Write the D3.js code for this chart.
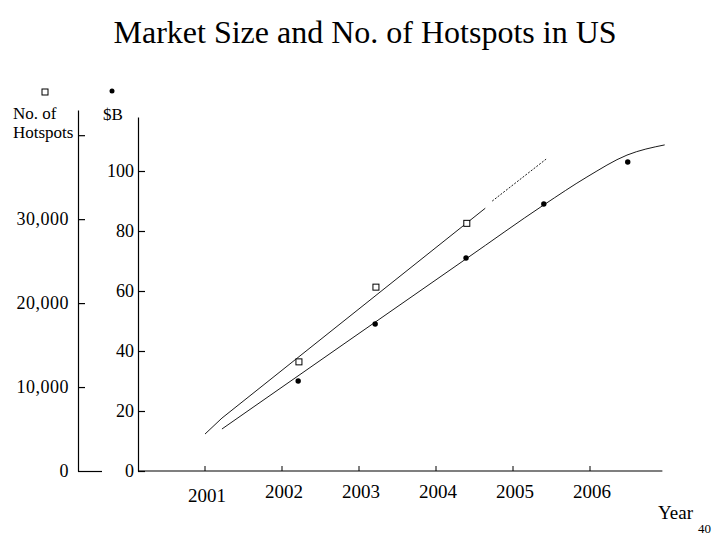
<!DOCTYPE html>
<html>
<head>
  <script src="https://cdnjs.cloudflare.com/ajax/libs/d3/7.8.5/d3.min.js"></script>
  <style>
    body { margin: 0; background: #fff; }
    text { font-family: "Liberation Serif", "Times New Roman", serif; fill: #000; }
  </style>
</head>
<body>
  <script>
    // years on the x axis
    var years = [2001, 2002, 2003, 2004, 2005, 2006];

    // No. of hotspots (squares) and market size in $B (dots)
    var hotspotYears = [2002.22, 2003.22, 2004.4];
    var hotspots = [13000, 21900, 29500];
    var marketYears = [2002.21, 2003.21, 2004.39, 2005.4, 2006.49];
    var marketSize = [30, 49, 71, 89, 103];

    // trend lines
    var hotspotTrendYears = [2001.0, 2001.22, 2004.64];
    var hotspotTrend = [4400, 6300, 31300];
    var hotspotForecastYears = [2004.73, 2005.43];
    var hotspotForecast = [32150, 37150];
    var marketTrendYears = [2001.22, 2004.39, 2005.4, 2005.96, 2006.48, 2006.97];
    var marketTrend = [14, 70.7, 88.7, 98, 105.3, 108.7];

    var hotspotTicks = [0, 10000, 20000, 30000, 40000];
    var marketTicks = [0, 20, 40, 60, 80, 100];

    var svg = d3.select('body')
      .append('svg')
      .attr('width', 720)
      .attr('height', 540);

    var x = d3.scaleLinear().domain([2001, 2006]).range([205, 590]);
    var yHot = d3.scaleLinear().domain([0, 43000]).range([471, 110]);
    var yMkt = d3.scaleLinear().domain([0, 118]).range([471, 117]);

    svg.append("text")
      .attr("x", 365)
      .attr("y", 43)
      .attr("text-anchor", "middle")
      .style("font-size", "32px")
      .text("Market Size and No. of Hotspots in US");

    // left axis: hotspots
    var fmt = d3.format(",");
    var gLeft = svg.append("g")
      .attr("transform", "translate(78,0)")
      .call(d3.axisLeft(yHot)
        .tickValues(hotspotTicks)
        .tickSizeInner(-7)
        .tickSizeOuter(0)
        .tickPadding(9)
        .tickFormat(function(d) { return d === 40000 ? "" : fmt(d); }));
    gLeft.selectAll("text").style("font-size", "18px")
      .style("font-family", "Liberation Serif")
      .style("letter-spacing", "0.5px");
    gLeft.selectAll(".tick").filter(function(d) { return d === 0; })
      .select("line").attr("x2", 24);

    // right axis: $B
    var gRight = svg.append("g")
      .attr("transform", "translate(138,0)")
      .call(d3.axisLeft(yMkt)
        .tickValues(marketTicks)
        .tickSizeInner(-7)
        .tickSizeOuter(0)
        .tickPadding(4));
    gRight.selectAll("text").style("font-size", "18px")
      .style("font-family", "Liberation Serif");

    svg.selectAll(".domain, .tick line").attr("stroke", "#000").attr("stroke-width", 1.2);

    // x axis
    var gBottom = svg.append("g")
      .attr("transform", "translate(0,471)");
    gBottom.append("line")
      .attr("x1", x(2000.13)).attr("x2", x(2006.94))
      .attr("stroke", "#000").attr("stroke-width", 1.2);
    gBottom.selectAll("line.tk")
      .data(years)
      .enter().append("line")
      .attr("class", "tk")
      .attr("x1", function(d) { return x(d); })
      .attr("x2", function(d) { return x(d); })
      .attr("y1", 0).attr("y2", -5)
      .attr("stroke", "#000");
    gBottom.selectAll("text")
      .data(years)
      .enter().append("text")
      .attr("x", function(d) { return x(d) + 2; })
      .attr("y", function(d) { return d === 2001 ? 31 : 27; })
      .attr("text-anchor", "middle")
      .style("font-size", "19px")
      .text(function(d) { return d; });

    svg.append("text").attr("x", 658).attr("y", 519)
      .style("font-size", "19px").text("Year");
    svg.append("text").attr("x", 698).attr("y", 533)
      .style("font-size", "13px").text("40");

    // legend / axis titles
    svg.append("rect")
      .attr("x", 42).attr("y", 89).attr("width", 6).attr("height", 6)
      .attr("fill", "#fff").attr("stroke", "#000");
    svg.append("circle")
      .attr("cx", 112).attr("cy", 91).attr("r", 2.5).attr("fill", "#000");
    svg.append("text").attr("x", 13).attr("y", 119)
      .style("font-size", "17px").text("No. of");
    svg.append("text").attr("x", 13).attr("y", 138)
      .style("font-size", "17px").text("Hotspots");
    svg.append("text").attr("x", 103).attr("y", 120)
      .style("font-size", "17px").text("$B");

    // lines
    var lineHot = d3.line()
      .x(function(d) { return x(d[0]); })
      .y(function(d) { return yHot(d[1]); });
    var lineMkt = d3.line()
      .curve(d3.curveMonotoneX)
      .x(function(d) { return x(d[0]); })
      .y(function(d) { return yMkt(d[1]); });

    svg.append("path")
      .datum(d3.zip(hotspotTrendYears, hotspotTrend))
      .attr("d", lineHot)
      .attr("fill", "none").attr("stroke", "#000").attr("stroke-width", 0.9);
    svg.append("path")
      .datum(d3.zip(hotspotForecastYears, hotspotForecast))
      .attr("d", lineHot)
      .attr("fill", "none").attr("stroke", "#000").attr("stroke-width", 0.9)
      .attr("stroke-dasharray", "2,1.5");
    svg.append("path")
      .datum(d3.zip(marketTrendYears, marketTrend))
      .attr("d", lineMkt)
      .attr("fill", "none").attr("stroke", "#000").attr("stroke-width", 0.9);

    // markers
    svg.selectAll("rect.hot")
      .data(d3.zip(hotspotYears, hotspots))
      .enter().append("rect")
      .attr("class", "hot")
      .attr("x", function(d) { return x(d[0]) - 3; })
      .attr("y", function(d) { return yHot(d[1]) - 3; })
      .attr("width", 6).attr("height", 6)
      .attr("fill", "#fff").attr("stroke", "#000");
    svg.selectAll("circle.mkt")
      .data(d3.zip(marketYears, marketSize))
      .enter().append("circle")
      .attr("class", "mkt")
      .attr("cx", function(d) { return x(d[0]); })
      .attr("cy", function(d) { return yMkt(d[1]); })
      .attr("r", 2.7)
      .attr("fill", "#000");
  </script>
</body>
</html>
